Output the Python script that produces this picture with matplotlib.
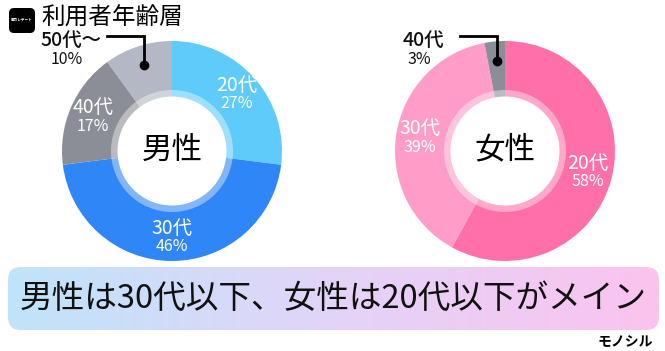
import matplotlib.pyplot as plt
import numpy as np
from matplotlib.patches import Circle, Wedge, FancyBboxPatch
from matplotlib.colors import to_rgb

plt.rcParams['font.family'] = ['Noto Sans CJK JP', 'DejaVu Sans']

# data
male_labels = ['20代', '30代', '40代', '50代〜']
male_share = [27, 46, 17, 10]
male_colors = ['#5ECBFB', '#2F86F6', '#8B8E97', '#B4B7C4']

female_labels = ['20代', '30代', '40代']
female_share = [58, 39, 3]
female_colors = ['#FF6FA8', '#FF9DC8', '#8B8E97']

title = '利用者年齢層'
summary = '男性は30代以下、女性は20代以下がメイン'

W, H = 665, 351
fig = plt.figure(figsize=(6.65, 3.51), dpi=100)
ax = fig.add_axes([0, 0, 1, 1])


def Y(y):
    # pixel row (from top) -> data y
    return H - y


def donut(cx, cy, shares, colors, labels, center_text, callout):
    ax.pie(shares, colors=colors, startangle=90, counterclock=False,
           radius=110, center=(cx, Y(cy)), frame=True,
           wedgeprops=dict(width=56, linewidth=0))
    ax.add_patch(Wedge((cx, Y(cy)), 61, 0, 360, width=7, color='white',
                       alpha=0.4, lw=0, zorder=3))
    ax.add_patch(Circle((cx, Y(cy)), 54.5, color='white', lw=0, zorder=4))
    ax.text(cx, Y(cy) + 1, center_text, fontsize=22, ha='center',
            va='center', color='black', zorder=5)

    cum = 0
    for i, (s, lab) in enumerate(zip(shares, labels)):
        theta = np.radians(90 - 360 * (cum + s / 2) / 100)
        cum += s
        if i == callout:
            dx, dy = cx + 90 * np.cos(theta), Y(cy) + 90 * np.sin(theta)
            top = Y(36)
            end = dx - 37
            ax.plot([dx, dx, end], [dy, top, top], color='black', lw=2,
                    solid_joinstyle='miter', zorder=6)
            ax.plot(dx, dy, 'o', color='black', ms=6, zorder=6)
            ax.text(end - 36, Y(40), lab, fontsize=14, ha='center',
                    va='center', color='#111111', fontweight='medium')
            ax.text(end - 40, Y(60), f'{s}%', fontsize=11.5, ha='center',
                    va='center', color='#111111')
        else:
            lx, ly = cx + 86 * np.cos(theta), Y(cy) + 86 * np.sin(theta)
            ax.text(lx, ly + 9, lab, fontsize=14, ha='center',
                    va='center', color='white', zorder=6)
            ax.text(lx, ly - 9.5, f'{s}%', fontsize=11.5, ha='center',
                    va='center', color='white', zorder=6)


donut(172, 151, male_share, male_colors, male_labels, '男性', 3)
donut(505, 151, female_share, female_colors, female_labels, '女性', 2)

# title with logo box
ax.add_patch(FancyBboxPatch((9, Y(33)), 26, 25,
                            boxstyle='round,pad=0,rounding_size=5',
                            color='black', lw=0))
ax.text(22, Y(20), '東カレデート', fontsize=2.6, color='white',
        ha='center', va='center', fontweight='bold')
ax.text(41, Y(18), title, fontsize=17, ha='left', va='center',
        color='black')

# summary banner with gradient
banner = FancyBboxPatch((8, Y(330)), 651, 63,
                        boxstyle='round,pad=0,rounding_size=13',
                        facecolor='none', lw=0)
ax.add_patch(banner)
stops = [to_rgb('#BFE4FA'), to_rgb('#E3D4F8'), to_rgb('#FBC3EE')]
xs = np.linspace(0, 1, 300)
grad = np.zeros((1, 300, 3))
for c in range(3):
    grad[0, :, c] = np.interp(xs, [0, 0.5, 1], [s[c] for s in stops])
img = ax.imshow(grad, extent=[8, 659, Y(330), Y(267)], aspect='auto',
                zorder=1)
img.set_clip_path(banner)
ax.text(333, Y(299), summary, fontsize=23.5, ha='center', va='center',
        color='#111111', zorder=2)

ax.text(653, Y(341), 'モノシル', fontsize=10, ha='right', va='center',
        color='black', fontweight='bold')

ax.set_xlim(0, W)
ax.set_ylim(0, H)
ax.set_aspect('equal')
ax.axis('off')

fig.savefig('out.png', dpi=100, facecolor='white')
